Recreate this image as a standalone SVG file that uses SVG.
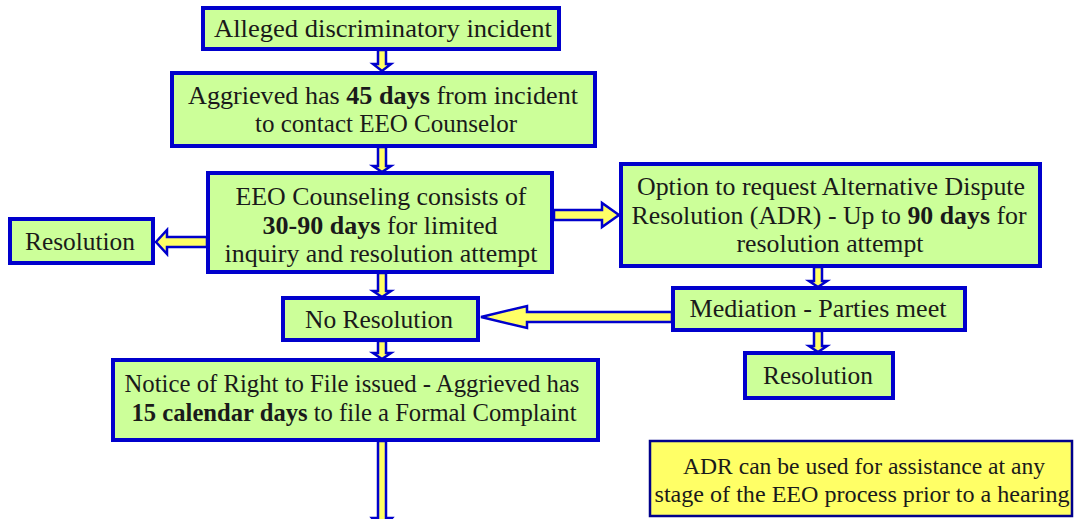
<svg xmlns="http://www.w3.org/2000/svg" width="1077" height="519" viewBox="0 0 1077 519">
<style>
.box{fill:#CCFF99;stroke:#0000CC;stroke-width:4}
.note{fill:#FFFF66;stroke:#00008B;stroke-width:2.5}
.arr{fill:#FFFF66;stroke:#0000CC;stroke-width:2.5;stroke-linejoin:miter}
.t{font-family:"Liberation Serif","Times New Roman",serif;font-size:26px;fill:#1a1a1a;text-anchor:middle}
.n{font-size:24px}
.b{font-weight:bold}
</style>
<rect width="1077" height="519" fill="#ffffff"/>
<g id="connectors">
<polygon class="arr" points="378,50 386,50 386,64 391,64 382,71 373,64 378,64"/>
<polygon class="arr" points="378,147 386,147 386,166 391,166 382,172 373,166 378,166"/>
<polygon class="arr" points="378,273 386,273 386,291 391,291 382,297 373,291 378,291"/>
<polygon class="arr" points="378,341 386,341 386,353 391,353 382,359 373,353 378,353"/>
<polygon class="arr" points="814,267 822,267 822,281 827,281 818,287 809,281 814,281"/>
<polygon class="arr" points="814,331 822,331 822,346 827,346 818,352 809,346 814,346"/>
<polygon class="arr" points="378,441 386,441 386,518 392,518 382,530 372,518 378,518"/>
<polygon class="arr" points="207,237 207,247 167,247 167,254 156,242 167,230 167,237"/>
<polygon class="arr" points="554,210 554,220 602,220 602,227 619,215 602,203 602,210"/>
<polygon class="arr" points="672,312 672,322 527,322 527,328 481,317 527,306 527,312"/>
</g>
<g id="n1"><rect class="box" x="203" y="8" width="356" height="41"/><text class="t" x="383" y="37" textLength="338" lengthAdjust="spacingAndGlyphs">Alleged discriminatory incident</text></g>
<g id="n2"><rect class="box" x="172" y="73" width="423" height="73"/><text class="t" x="383" y="104" textLength="390" lengthAdjust="spacingAndGlyphs">Aggrieved has <tspan class="b">45 days</tspan> from incident</text><text class="t" x="386" y="132" textLength="262" lengthAdjust="spacingAndGlyphs">to contact EEO Counselor</text></g>
<g id="n3"><rect class="box" x="208" y="173" width="344" height="99"/><text class="t" x="381" y="205" textLength="291" lengthAdjust="spacingAndGlyphs">EEO Counseling consists of</text><text class="t" x="380" y="234" textLength="235" lengthAdjust="spacingAndGlyphs"><tspan class="b">30-90 days</tspan> for limited</text><text class="t" x="381" y="262" textLength="313" lengthAdjust="spacingAndGlyphs">inquiry and resolution attempt</text></g>
<g id="n4"><rect class="box" x="10" y="219" width="143" height="44"/><text class="t" x="80" y="250" textLength="110" lengthAdjust="spacingAndGlyphs">Resolution</text></g>
<g id="n5"><rect class="box" x="621" y="164" width="419" height="102"/><text class="t" x="831" y="195" textLength="388" lengthAdjust="spacingAndGlyphs">Option to request Alternative Dispute</text><text class="t" x="829" y="224" textLength="395" lengthAdjust="spacingAndGlyphs">Resolution (ADR) - Up to <tspan class="b">90 days</tspan> for</text><text class="t" x="830" y="252" textLength="187" lengthAdjust="spacingAndGlyphs">resolution attempt</text></g>
<g id="n6"><rect class="box" x="283" y="298" width="195" height="42"/><text class="t" x="379" y="328" textLength="148" lengthAdjust="spacingAndGlyphs">No Resolution</text></g>
<g id="n7"><rect class="box" x="673" y="288" width="292" height="42"/><text class="t" x="818" y="317" textLength="257" lengthAdjust="spacingAndGlyphs">Mediation - Parties meet</text></g>
<g id="n8"><rect class="box" x="745" y="353" width="148" height="45"/><text class="t" x="818" y="384" textLength="110" lengthAdjust="spacingAndGlyphs">Resolution</text></g>
<g id="n9"><rect class="box" x="113" y="360" width="485" height="80"/><text class="t" x="352" y="392" textLength="455" lengthAdjust="spacingAndGlyphs">Notice of Right to File issued - Aggrieved has</text><text class="t" x="354" y="421" textLength="445" lengthAdjust="spacingAndGlyphs"><tspan class="b">15 calendar days</tspan> to file a Formal Complaint</text></g>
<g id="n10"><rect class="note" x="650" y="441" width="422" height="75"/><text class="t n" x="864" y="474" textLength="362" lengthAdjust="spacingAndGlyphs">ADR can be used for assistance at any</text><text class="t n" x="862" y="502" textLength="415" lengthAdjust="spacingAndGlyphs">stage of the EEO process prior to a hearing</text></g>
</svg>
